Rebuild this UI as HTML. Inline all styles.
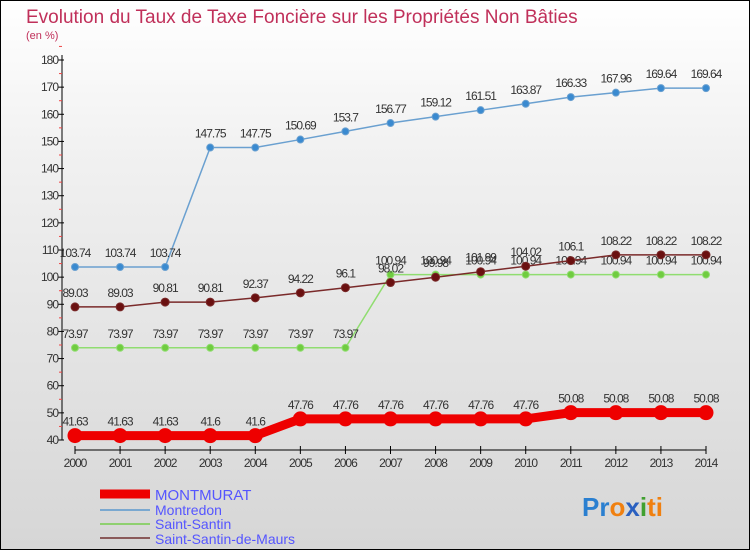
<!DOCTYPE html>
<html><head><meta charset="utf-8"><style>
body{margin:0}
#c{width:750px;height:550px;position:relative;box-sizing:border-box;border:1px solid #000;background:linear-gradient(#fff,#f0f0f0 30%,#d6d6d6);font-family:"Liberation Sans",sans-serif;overflow:hidden}
</style></head><body>
<div id="c">
<svg id="s" width="750" height="550" style="position:absolute;left:-1px;top:-1px">
<text x="26" y="23" font-size="19" fill="#c0305a">Evolution du Taux de Taxe Foncière sur les Propriétés Non Bâties</text>
<text x="26" y="39" font-size="11" fill="#c0305a">(en %)</text>
<g id="axes"></g><g id="series"></g>
<g>
<line x1="100" y1="494" x2="150" y2="494" stroke="#e00" stroke-width="9"/>
<text x="155" y="500" font-size="15" fill="#55f">MONTMURAT</text>
<line x1="100" y1="510" x2="150" y2="510" stroke="#7aa8d0" stroke-width="2"/>
<text x="155" y="515" font-size="14" fill="#55f">Montredon</text>
<line x1="100" y1="524" x2="150" y2="524" stroke="#8fd070" stroke-width="2"/>
<text x="155" y="529" font-size="14" fill="#55f">Saint-Santin</text>
<line x1="100" y1="538" x2="150" y2="538" stroke="#8a5a5a" stroke-width="2"/>
<text x="155" y="544" font-size="14" fill="#55f">Saint-Santin-de-Maurs</text>
</g>
<text x="582" y="516" font-size="26" font-weight="bold"><tspan fill="#2a7fd0">Pr</tspan><tspan fill="#f08010">o</tspan><tspan fill="#2a60c0">x</tspan><tspan fill="#40a030">i</tspan><tspan fill="#f08010">ti</tspan></text>
</svg>
</div>
<script>
const years=[2000,2001,2002,2003,2004,2005,2006,2007,2008,2009,2010,2011,2012,2013,2014];
const yTicks=[40,50,60,70,80,90,100,110,120,130,140,150,160,170,180];
const montmurat=[41.63,41.63,41.63,41.6,41.6,47.76,47.76,47.76,47.76,47.76,47.76,50.08,50.08,50.08,50.08];
const montredon=[103.74,103.74,103.74,147.75,147.75,150.69,153.7,156.77,159.12,161.51,163.87,166.33,167.96,169.64,169.64];
const saintSantin=[73.97,73.97,73.97,73.97,73.97,73.97,73.97,100.94,100.94,100.94,100.94,100.94,100.94,100.94,100.94];
const saintSantinDeMaurs=[89.03,89.03,90.81,90.81,92.37,94.22,96.1,98.02,99.98,101.99,104.02,106.1,108.22,108.22,108.22];
const NS="http://www.w3.org/2000/svg";
const x=i=>75+i*(706-75)/(years.length-1);
const y=v=>440-(v-40)*(380/140);
function mk(p,t,a){const e=document.createElementNS(NS,t);for(const k in a)e.setAttribute(k,a[k]);p.appendChild(e);return e;}
const ax=document.getElementById('axes'),sg=document.getElementById('series');
const ya=mk(ax,'line',{x1:62,y1:55,x2:62,y2:440,stroke:'#000'});


const xa=mk(ax,'line',{x1:75,y1:450,x2:706,y2:450,stroke:'#000'});


yTicks.forEach(v=>{mk(ax,'line',{x1:58,x2:64,y1:y(v),y2:y(v),stroke:'#000'});
mk(ax,'line',{x1:59,x2:62,y1:y(v+5),y2:y(v+5),stroke:'#e44'});
const t=mk(ax,'text',{x:58,y:y(v)+4,'font-size':12,fill:'#333','text-anchor':'end','letter-spacing':'-1'});t.textContent=v;

});
years.forEach((yr,i)=>{mk(ax,'line',{x1:x(i),x2:x(i),y1:446,y2:454,stroke:'#000'});
const t=mk(ax,'text',{x:x(i),y:467,'font-size':12,fill:'#333','text-anchor':'middle','letter-spacing':'-1'});t.textContent=yr;

});
function series(d,name,col,w,r,fill){
const g=mk(sg,'g',{});


mk(g,'polyline',{points:d.map((v,i)=>x(i)+','+y(v)).join(' '),fill:'none',stroke:col,'stroke-width':w});
d.forEach((v,i)=>{const c=mk(g,'circle',{cx:x(i),cy:y(v),r:r,fill:fill,stroke:col,'stroke-width':1});


const t=mk(g,'text',{x:x(i),y:y(v)-10,'font-size':12,fill:'#333','text-anchor':'middle','letter-spacing':'-1'});t.textContent=v;

});}
series(montredon,'montredon-series','#6aa0d0',1.5,3.5,'#3a8ad0');
series(saintSantin,'saint-santin-series','#90dd70',1.5,3.5,'#70cc40');
series(saintSantinDeMaurs,'saint-santin-de-maurs-series','#7a2a2a',1.5,4,'#6a1010');
series(montmurat,'montmurat-series','#ee0000',9,7,'#ee0000');
</script>
</body></html>
